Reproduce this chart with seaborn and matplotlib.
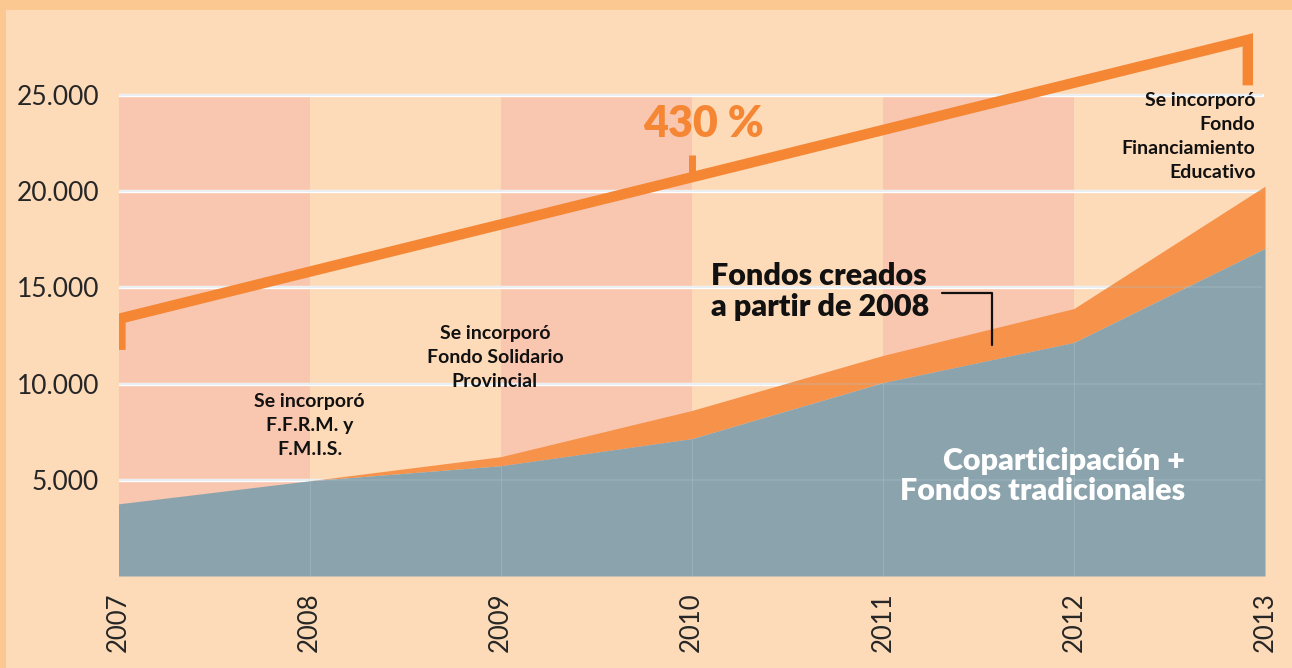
import numpy as np
import matplotlib
matplotlib.use("Agg")
import matplotlib.pyplot as plt
import seaborn as sns
from matplotlib.patches import Rectangle

# Datos (millones de pesos)
years = [2007, 2008, 2009, 2010, 2011, 2012, 2013]
coparticipacion = [3750, 4950, 5730, 7140, 10050, 12140, 17030]
total = [3750, 4950, 6200, 8600, 11460, 13900, 20260]
y_ticks = [5000, 10000, 15000, 20000, 25000]
y_labels = ["5.000", "10.000", "15.000", "20.000", "25.000"]

# Línea decorativa de crecimiento (430 %)
bracket_x = [2007.01, 2007.01, 2012.91, 2012.91]
bracket_y = [11750, 13385, 27865, 25500]
mid_tick_x = [2010.0, 2010.0]
mid_tick_y = [20700, 21900]

BG_OUT = "#FBC891"
BG_IN = "#FDDAB8"
STRIPE = "#F9C6AF"
BLUE = "#8BA3AD"
ORANGE_AREA = "#F6924A"
ORANGE_LINE = "#F58634"

sns.set_style("white")
plt.rcParams['font.family'] = ['Lato', 'DejaVu Sans']

fig = plt.figure(figsize=(12.92, 6.68), dpi=100)
fig.patch.set_facecolor(BG_OUT)
fig.patches.append(Rectangle((6 / 1292, 0), 1, 1 - 10 / 668, transform=fig.transFigure,
                             facecolor=BG_IN, edgecolor="none", zorder=-10))

ax = fig.add_axes([118.5 / 1292, 1 - 576 / 668, (1265 - 118.5) / 1292, (576 - 18) / 668])
ax.set_facecolor("none")
ax.set_xlim(2007, 2013)
ax.set_ylim(0, 29000)

# franjas alternadas
for i, yr in enumerate(years[:-1]):
    if i % 2 == 0:
        ax.fill_between([yr, yr + 1], 0, 25000, color=STRIPE, lw=0, zorder=0)

# líneas de grilla blancas
for t in y_ticks:
    ax.axhline(t, xmin=0, xmax=0.997, color="white", lw=2.4, zorder=1)

# áreas
ax.fill_between(years, coparticipacion, total, color=ORANGE_AREA, lw=0, zorder=2)
ax.fill_between(years, 0, coparticipacion, color=BLUE, lw=0, zorder=2)
for t in y_ticks:
    ax.axhline(t, xmin=0, xmax=0.997, color="#A9C3D0", lw=1.2, alpha=0.3, zorder=3)
for yr, v in zip(years[1:-1], coparticipacion[1:-1]):
    ax.plot([yr, yr], [0, v], color="#A5BAC3", lw=0.7, alpha=0.6, zorder=3)

# línea de crecimiento
sns.lineplot(x=bracket_x, y=bracket_y, ax=ax, color=ORANGE_LINE, lw=7.5, sort=False,
             estimator=None, errorbar=None,
             solid_joinstyle="miter", solid_capstyle="butt", zorder=4)
sns.lineplot(x=mid_tick_x, y=mid_tick_y, ax=ax, color=ORANGE_LINE, lw=5, sort=False,
             estimator=None, errorbar=None, solid_capstyle="butt", zorder=4)

ax.text(2010.06, 23500, "430 %", color=ORANGE_LINE, fontsize=31, fontweight="heavy",
        ha="center", va="center", zorder=5)

note_kw = dict(fontsize=14, fontweight="bold", va="top", linespacing=1.5,
               color="#111111", zorder=5)
ax.text(2008.0, 9500, "Se incorporó\nF.F.R.M. y\nF.M.I.S.", ha="center", **note_kw)
ax.text(2008.97, 13050, "Se incorporó\nFondo Solidario\nProvincial", ha="center", **note_kw)
ax.text(2012.95, 25150, "Se incorporó\nFondo\nFinanciamiento\nEducativo", ha="right", **note_kw)

ax.text(2010.1, 14800, "Fondos creados\na partir de 2008", fontsize=22, fontweight="heavy",
        ha="left", va="center", linespacing=1.15, color="#111111", zorder=5)
ax.plot([2011.31, 2011.57, 2011.57], [14690, 14690, 11980], color="#111111", lw=1.6, zorder=5)

ax.text(2012.58, 5200, "Coparticipación +\nFondos tradicionales", fontsize=22, fontweight="heavy",
        ha="right", va="center", multialignment="right", linespacing=1.1,
        color="white", zorder=5)

ax.set_yticks(y_ticks)
ax.set_yticklabels(y_labels)
ax.set_xticks(years)
ax.set_xticklabels([str(y) for y in years], rotation=90)
ax.tick_params(axis="y", length=0, pad=14, labelsize=19)
ax.tick_params(axis="x", length=0, pad=12, labelsize=18.5)
for lab in ax.get_xticklabels():
    lab.set_va("top")
for s in ax.spines.values():
    s.set_visible(False)

fig.savefig("out.png", dpi=100, facecolor=fig.get_facecolor())
